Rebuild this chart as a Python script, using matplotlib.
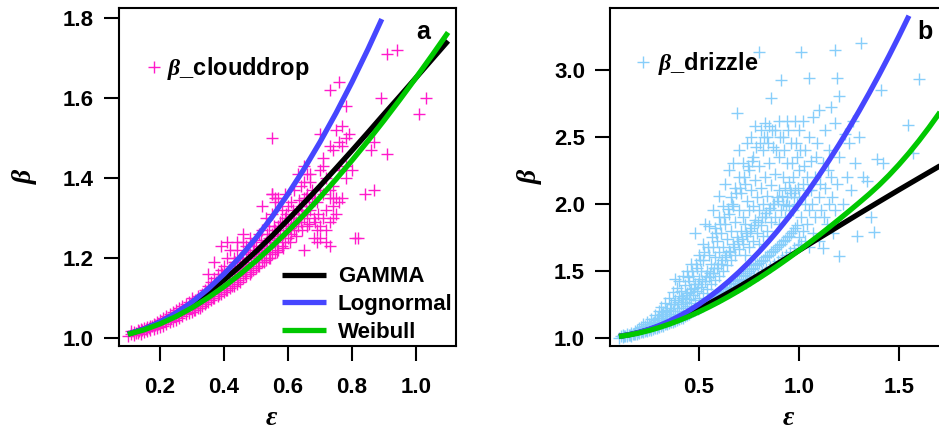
import matplotlib
matplotlib.use("Agg")
import matplotlib.pyplot as plt

plt.rcParams["font.family"] = ["Liberation Sans", "DejaVu Sans"]
plt.rcParams["font.weight"] = "bold"
plt.rcParams["mathtext.fontset"] = "custom"
plt.rcParams["mathtext.it"] = "Liberation Serif:italic:bold"

# theory curves
eps_gamma = [0.10, 0.15, 0.20, 0.25, 0.30, 0.35, 0.40, 0.45, 0.50, 0.55, 0.60, 0.65,
             0.70, 0.75, 0.80, 0.85, 0.90, 0.95, 1.00, 1.05, 1.10, 1.20, 1.30, 1.40,
             1.50, 1.60, 1.70, 1.80]
beta_gamma = [1.0099, 1.0222, 1.0390, 1.0600, 1.0850, 1.1136, 1.1453, 1.1797, 1.2164,
              1.2552, 1.2959, 1.3376, 1.3803, 1.4244, 1.4689, 1.5141, 1.5600, 1.6052,
              1.6510, 1.6969, 1.7428, 1.8341, 1.9249, 2.0147, 2.1036, 2.1910, 2.2779,
              2.3632]
eps_weibull = [0.10, 0.15, 0.20, 0.25, 0.30, 0.35, 0.40, 0.45, 0.50, 0.55, 0.60, 0.65,
               0.70, 0.75, 0.80, 0.85, 0.90, 0.95, 1.00, 1.05, 1.10, 1.15, 1.20, 1.25,
               1.30, 1.35, 1.40, 1.45, 1.50, 1.55, 1.60, 1.65, 1.70, 1.75, 1.80]
beta_weibull = [1.0093, 1.0204, 1.0353, 1.0537, 1.0755, 1.1005, 1.1285, 1.1593, 1.1929,
                1.2290, 1.2676, 1.3085, 1.3516, 1.3969, 1.4441, 1.4932, 1.5441, 1.5967,
                1.6510, 1.7068, 1.7640, 1.8227, 1.8827, 1.9440, 2.0064, 2.0701, 2.138,
                2.212, 2.292, 2.378, 2.470, 2.568, 2.672, 2.782, 2.898]
eps_logn = [0.10, 0.15, 0.20, 0.25, 0.30, 0.35, 0.40, 0.45, 0.50, 0.55, 0.60, 0.65,
            0.70, 0.75, 0.80, 0.85, 0.893, 0.95, 1.00, 1.05, 1.10, 1.15, 1.20, 1.25,
            1.30, 1.35, 1.40, 1.45, 1.50, 1.55]
beta_logn = [1.0100, 1.0225, 1.0400, 1.0625, 1.0900, 1.1225, 1.1600, 1.2025, 1.2500,
             1.3025, 1.3600, 1.4225, 1.4900, 1.5625, 1.6400, 1.7225, 1.7974, 1.9025,
             2.0000, 2.1025, 2.2100, 2.3225, 2.4400, 2.5625, 2.6900, 2.8225, 2.9600,
             3.1025, 3.2500, 3.4025]

cloud = [
    (0.10, 1.005), (0.11, 1.01), (0.11, 1.018), (0.12, 1.008), (0.12, 1.015), (0.13, 1.012),
    (0.13, 1.02), (0.14, 1.01), (0.14, 1.022), (0.15, 1.015), (0.15, 1.025), (0.16, 1.018),
    (0.16, 1.028), (0.17, 1.02), (0.17, 1.03), (0.18, 1.022), (0.18, 1.035), (0.19, 1.025),
    (0.19, 1.04), (0.20, 1.028), (0.20, 1.045), (0.21, 1.03), (0.21, 1.05), (0.22, 1.035),
    (0.22, 1.055), (0.23, 1.04), (0.23, 1.06), (0.24, 1.042), (0.24, 1.065), (0.25, 1.045),
    (0.25, 1.07), (0.26, 1.05), (0.26, 1.075), (0.27, 1.055), (0.27, 1.08), (0.28, 1.06),
    (0.28, 1.085), (0.29, 1.062), (0.29, 1.09), (0.30, 1.065), (0.30, 1.10), (0.24, 1.055),
    (0.27, 1.068), (0.29, 1.075), (0.31, 1.07), (0.31, 1.095), (0.32, 1.075), (0.32, 1.105),
    (0.33, 1.08), (0.33, 1.11), (0.34, 1.085), (0.34, 1.12), (0.35, 1.09), (0.35, 1.13),
    (0.36, 1.095), (0.36, 1.14), (0.37, 1.10), (0.37, 1.15), (0.38, 1.105), (0.38, 1.16),
    (0.39, 1.11), (0.39, 1.17), (0.40, 1.115), (0.40, 1.18), (0.33, 1.095), (0.36, 1.115),
    (0.38, 1.13), (0.35, 1.16), (0.37, 1.19), (0.34, 1.10), (0.39, 1.14), (0.39, 1.23),
    (0.41, 1.24), (0.43, 1.20), (0.41, 1.12), (0.41, 1.16), (0.41, 1.20), (0.42, 1.125),
    (0.42, 1.17), (0.43, 1.13), (0.43, 1.19), (0.43, 1.15), (0.44, 1.135), (0.44, 1.175),
    (0.44, 1.22), (0.45, 1.14), (0.45, 1.18), (0.45, 1.20), (0.46, 1.15), (0.46, 1.19),
    (0.46, 1.24), (0.47, 1.155), (0.47, 1.20), (0.47, 1.17), (0.48, 1.16), (0.48, 1.21),
    (0.48, 1.25), (0.49, 1.17), (0.49, 1.22), (0.50, 1.175), (0.50, 1.20), (0.50, 1.24),
    (0.42, 1.22), (0.44, 1.24), (0.46, 1.26), (0.47, 1.23), (0.51, 1.18), (0.51, 1.22),
    (0.51, 1.26), (0.52, 1.19), (0.52, 1.23), (0.52, 1.27), (0.53, 1.195), (0.53, 1.24),
    (0.53, 1.30), (0.54, 1.20), (0.54, 1.25), (0.54, 1.28), (0.55, 1.21), (0.55, 1.26),
    (0.55, 1.31), (0.56, 1.215), (0.56, 1.27), (0.56, 1.34), (0.57, 1.22), (0.57, 1.28),
    (0.57, 1.25), (0.58, 1.23), (0.58, 1.29), (0.58, 1.32), (0.59, 1.24), (0.59, 1.30),
    (0.60, 1.25), (0.60, 1.28), (0.60, 1.33), (0.55, 1.36), (0.57, 1.35), (0.52, 1.33),
    (0.59, 1.36), (0.61, 1.26), (0.61, 1.30), (0.61, 1.34), (0.62, 1.27), (0.62, 1.31),
    (0.62, 1.37), (0.63, 1.28), (0.63, 1.32), (0.64, 1.29), (0.64, 1.33), (0.64, 1.38),
    (0.65, 1.30), (0.65, 1.35), (0.66, 1.31), (0.66, 1.36), (0.66, 1.28), (0.67, 1.32),
    (0.67, 1.39), (0.68, 1.30), (0.68, 1.35), (0.69, 1.27), (0.69, 1.34), (0.70, 1.28),
    (0.70, 1.37), (0.70, 1.42), (0.68, 1.25), (0.70, 1.25), (0.63, 1.41), (0.65, 1.43),
    (0.67, 1.41), (0.71, 1.30), (0.71, 1.36), (0.72, 1.32), (0.72, 1.40), (0.73, 1.29),
    (0.73, 1.35), (0.74, 1.33), (0.74, 1.38), (0.75, 1.35), (0.75, 1.31), (0.76, 1.34),
    (0.76, 1.42), (0.77, 1.35), (0.78, 1.40), (0.72, 1.27), (0.74, 1.30), (0.73, 1.23),
    (0.71, 1.45), (0.74, 1.47), (0.77, 1.48), (0.78, 1.43),
    (0.91, 1.71), (0.94, 1.72), (0.76, 1.64), (0.73, 1.62), (0.89, 1.60), (1.03, 1.60),
    (1.01, 1.56), (0.78, 1.58), (0.55, 1.50), (0.75, 1.52), (0.77, 1.53), (0.78, 1.50),
    (0.76, 1.49), (0.79, 1.51), (0.73, 1.48), (0.70, 1.51), (0.86, 1.47), (0.91, 1.46),
    (0.87, 1.49), (0.80, 1.42), (0.71, 1.43), (0.87, 1.37), (0.84, 1.36), (0.74, 1.35),
    (0.73, 1.37), (0.81, 1.25), (0.72, 1.24), (0.65, 1.22), (0.69, 1.24), (0.66, 1.41),
    (0.65, 1.39), (0.55, 1.36), (0.56, 1.35), (0.82, 1.25),
]

cloud_core = [
    (0.125, 1.012), (0.135, 1.018), (0.145, 1.02), (0.155, 1.022), (0.165, 1.026),
    (0.175, 1.03), (0.185, 1.032), (0.195, 1.036), (0.205, 1.04), (0.215, 1.043),
    (0.225, 1.048), (0.235, 1.05), (0.245, 1.058), (0.255, 1.06), (0.265, 1.065),
    (0.275, 1.07), (0.285, 1.075), (0.295, 1.082), (0.305, 1.085), (0.315, 1.09),
    (0.325, 1.092), (0.335, 1.10), (0.345, 1.105), (0.355, 1.11), (0.365, 1.12),
    (0.375, 1.125), (0.385, 1.13), (0.395, 1.135), (0.405, 1.14), (0.415, 1.145),
    (0.425, 1.15), (0.435, 1.16), (0.445, 1.165), (0.455, 1.17), (0.465, 1.175),
    (0.475, 1.185), (0.485, 1.19), (0.495, 1.20), (0.505, 1.205), (0.515, 1.21),
    (0.525, 1.215), (0.535, 1.225), (0.545, 1.23), (0.555, 1.24), (0.565, 1.245),
    (0.575, 1.255), (0.585, 1.26), (0.595, 1.27), (0.605, 1.275), (0.615, 1.285),
    (0.625, 1.29), (0.635, 1.30), (0.645, 1.31), (0.655, 1.32), (0.665, 1.33),
    (0.675, 1.34), (0.685, 1.35), (0.695, 1.31),
    (0.305, 1.07), (0.325, 1.075), (0.345, 1.09), (0.365, 1.10), (0.385, 1.11),
    (0.405, 1.12), (0.425, 1.13), (0.445, 1.145), (0.465, 1.16), (0.485, 1.165),
    (0.505, 1.18), (0.525, 1.19), (0.545, 1.20), (0.565, 1.215), (0.585, 1.225),
    (0.605, 1.24), (0.625, 1.255), (0.645, 1.27), (0.665, 1.285), (0.685, 1.29),
    (0.355, 1.125), (0.375, 1.14), (0.395, 1.16), (0.415, 1.17), (0.435, 1.19),
    (0.455, 1.20), (0.475, 1.215), (0.495, 1.23), (0.515, 1.245), (0.535, 1.26),
    (0.555, 1.28), (0.575, 1.29), (0.595, 1.31), (0.615, 1.32), (0.635, 1.345),
    (0.655, 1.35), (0.675, 1.37),
]

drizzle = [
    (0.10, 1.00), (0.11, 1.01), (0.12, 1.005), (0.12, 1.02), (0.13, 1.01), (0.14, 1.015),
    (0.14, 1.03), (0.15, 1.02), (0.16, 1.015), (0.16, 1.035), (0.17, 1.025), (0.18, 1.03),
    (0.18, 1.05), (0.19, 1.03), (0.19, 1.06), (0.20, 1.035), (0.20, 1.07), (0.21, 1.04),
    (0.21, 1.08), (0.22, 1.045), (0.22, 1.06), (0.22, 1.10), (0.23, 1.05), (0.23, 1.09),
    (0.24, 1.05), (0.24, 1.07), (0.24, 1.12), (0.25, 1.055), (0.25, 1.10), (0.26, 1.06),
    (0.26, 1.08), (0.26, 1.14), (0.27, 1.065), (0.27, 1.11), (0.28, 1.07), (0.28, 1.10),
    (0.28, 1.17), (0.29, 1.075), (0.29, 1.13), (0.30, 1.08), (0.30, 1.12), (0.30, 1.20),
    (0.31, 1.085), (0.31, 1.15), (0.31, 1.23), (0.32, 1.09), (0.32, 1.13), (0.32, 1.19),
    (0.33, 1.10), (0.33, 1.16), (0.33, 1.26), (0.34, 1.10), (0.34, 1.14), (0.34, 1.21),
    (0.35, 1.11), (0.35, 1.18), (0.35, 1.30), (0.36, 1.115), (0.36, 1.16), (0.36, 1.25),
    (0.37, 1.12), (0.37, 1.20), (0.37, 1.34), (0.38, 1.125), (0.38, 1.18), (0.38, 1.28),
    (0.38, 1.44), (0.39, 1.13), (0.39, 1.22), (0.39, 1.37), (0.40, 1.14), (0.40, 1.20),
    (0.40, 1.31), (0.40, 1.42), (0.41, 1.15), (0.41, 1.25), (0.41, 1.35), (0.42, 1.15),
    (0.42, 1.22), (0.42, 1.30), (0.42, 1.46), (0.43, 1.16), (0.43, 1.27), (0.43, 1.39),
    (0.44, 1.17), (0.44, 1.24), (0.44, 1.33), (0.44, 1.50), (0.45, 1.18), (0.45, 1.29),
    (0.45, 1.42), (0.46, 1.19), (0.46, 1.26), (0.46, 1.36), (0.46, 1.55), (0.47, 1.20),
    (0.47, 1.32), (0.47, 1.46), (0.48, 1.21), (0.48, 1.28), (0.48, 1.40), (0.48, 1.78),
    (0.49, 1.22), (0.49, 1.35), (0.49, 1.52), (0.50, 1.22), (0.50, 1.30), (0.50, 1.44),
    (0.50, 1.62), (0.51, 1.23), (0.51, 1.38), (0.51, 1.50), (0.52, 1.24), (0.52, 1.33),
    (0.52, 1.58), (0.52, 1.70), (0.53, 1.25), (0.53, 1.42), (0.53, 1.85), (0.54, 1.26),
    (0.54, 1.36), (0.54, 1.50), (0.55, 1.27), (0.55, 1.45), (0.55, 1.62), (0.55, 1.83),
    (0.56, 1.28), (0.56, 1.40), (0.56, 1.55), (0.57, 1.29), (0.57, 1.48), (0.57, 1.68),
    (0.57, 1.95), (0.58, 1.30), (0.58, 1.43), (0.58, 1.60), (0.58, 1.82), (0.59, 1.31),
    (0.59, 1.52), (0.59, 1.72), (0.60, 1.32), (0.60, 1.46), (0.60, 1.64), (0.60, 1.90),
    (0.60, 2.06), (0.61, 1.33), (0.61, 1.55), (0.61, 1.78), (0.62, 1.34), (0.62, 1.50),
    (0.62, 1.68), (0.62, 1.98), (0.63, 1.35), (0.63, 1.60), (0.63, 1.85), (0.63, 2.15),
    (0.64, 1.36), (0.64, 1.54), (0.64, 1.74), (0.65, 1.37), (0.65, 1.65), (0.65, 1.92),
    (0.65, 2.25), (0.66, 1.38), (0.66, 1.58), (0.66, 1.80), (0.66, 2.05), (0.67, 1.40),
    (0.67, 1.70), (0.67, 1.98), (0.67, 2.30), (0.68, 1.41), (0.68, 1.62), (0.68, 1.86),
    (0.68, 2.12), (0.69, 1.42), (0.69, 1.75), (0.69, 2.68), (0.70, 1.43), (0.70, 1.66),
    (0.70, 1.95), (0.70, 2.20), (0.70, 2.40), (0.71, 1.44), (0.71, 1.80), (0.71, 2.08),
    (0.72, 1.46), (0.72, 1.70), (0.72, 1.90), (0.72, 2.30), (0.73, 1.47), (0.73, 1.62),
    (0.73, 1.85), (0.73, 2.15), (0.74, 1.48), (0.74, 1.76), (0.74, 2.02), (0.74, 2.45),
    (0.75, 1.50), (0.75, 1.68), (0.75, 1.95), (0.75, 2.25), (0.76, 1.51), (0.76, 1.82),
    (0.76, 2.10), (0.76, 2.50), (0.77, 1.52), (0.77, 1.72), (0.77, 1.98), (0.77, 2.35),
    (0.78, 1.54), (0.78, 1.88), (0.78, 2.18), (0.78, 2.58), (0.79, 1.55), (0.79, 1.78),
    (0.79, 2.05), (0.80, 1.56), (0.80, 1.70), (0.80, 1.95), (0.80, 2.28), (0.80, 3.13),
    (0.81, 1.57), (0.81, 1.84), (0.81, 2.12), (0.81, 2.55), (0.82, 1.58), (0.82, 1.76),
    (0.82, 2.00), (0.82, 2.40), (0.83, 1.60), (0.83, 1.90), (0.83, 2.20), (0.83, 2.60),
    (0.84, 1.61), (0.84, 1.80), (0.84, 2.06), (0.84, 2.50), (0.85, 1.62), (0.85, 1.95),
    (0.85, 2.30), (0.85, 2.58), (0.86, 1.64), (0.86, 1.86), (0.86, 2.14), (0.86, 2.79),
    (0.87, 1.65), (0.87, 2.00), (0.87, 2.42), (0.88, 1.66), (0.88, 1.90), (0.88, 2.22),
    (0.88, 2.55), (0.89, 1.68), (0.89, 2.05), (0.90, 1.69), (0.90, 1.85), (0.90, 2.10),
    (0.90, 2.35), (0.90, 2.62), (0.91, 1.70), (0.91, 1.95), (0.91, 2.92), (0.92, 1.72),
    (0.92, 2.00), (0.92, 2.20), (0.92, 2.50), (0.93, 1.73), (0.93, 1.90), (0.93, 2.12),
    (0.94, 1.75), (0.94, 2.05), (0.94, 2.30), (0.94, 2.62), (0.95, 1.76), (0.95, 1.98),
    (0.95, 2.16), (0.96, 1.78), (0.96, 2.08), (0.96, 2.45), (0.97, 1.80), (0.97, 1.95),
    (0.97, 2.20), (0.98, 1.82), (0.98, 2.10), (0.98, 2.62), (0.99, 1.84), (0.99, 2.00),
    (0.99, 2.35), (1.00, 1.75), (1.00, 2.05), (1.00, 2.25), (1.00, 2.55), (1.01, 1.70),
    (1.01, 1.90), (1.01, 3.13), (1.02, 1.80), (1.02, 2.15), (1.02, 2.62), (1.03, 1.72),
    (1.03, 2.00), (1.03, 2.40), (1.04, 1.85), (1.04, 2.20), (1.05, 1.68), (1.05, 1.95),
    (1.05, 2.94), (1.05, 2.50), (1.06, 2.10), (1.06, 2.32), (1.07, 1.78), (1.07, 2.65),
    (1.08, 1.90), (1.08, 2.20), (1.09, 2.45), (1.10, 1.72), (1.10, 2.05), (1.10, 2.70),
    (1.11, 1.95), (1.12, 1.67), (1.12, 2.30), (1.13, 2.12), (1.13, 2.55), (1.14, 1.85),
    (1.15, 2.00), (1.15, 2.40), (1.16, 2.20), (1.16, 2.72), (1.17, 1.78), (1.18, 1.95),
    (1.18, 2.60), (1.18, 3.15), (1.19, 2.94), (1.19, 2.15), (1.20, 1.61), (1.20, 2.35),
    (1.20, 2.80), (1.22, 2.00), (1.23, 2.52), (1.24, 2.20), (1.25, 2.45), (1.26, 2.10),
    (1.27, 2.62), (1.28, 2.30), (1.29, 1.76), (1.30, 2.50), (1.31, 3.20), (1.32, 2.20),
    (1.34, 2.17), (1.36, 1.90), (1.375, 1.79), (1.39, 2.33), (1.41, 2.85), (1.42, 2.30),
    (1.545, 2.59), (1.57, 2.38), (1.60, 2.93),
]

drizzle_core = [
    (0.125, 1.01), (0.155, 1.02), (0.175, 1.03), (0.195, 1.04), (0.215, 1.05),
    (0.235, 1.06), (0.255, 1.07), (0.275, 1.08), (0.295, 1.09), (0.315, 1.10),
    (0.335, 1.11), (0.355, 1.125), (0.375, 1.135), (0.395, 1.15), (0.415, 1.16),
    (0.435, 1.175), (0.455, 1.19), (0.475, 1.205), (0.495, 1.215), (0.515, 1.235),
    (0.535, 1.25), (0.555, 1.265), (0.575, 1.28), (0.595, 1.30), (0.615, 1.315),
    (0.635, 1.33), (0.655, 1.345), (0.675, 1.36), (0.695, 1.38), (0.715, 1.395),
    (0.735, 1.41), (0.755, 1.43), (0.775, 1.45), (0.795, 1.47), (0.815, 1.49),
    (0.835, 1.51), (0.855, 1.53), (0.875, 1.55), (0.895, 1.57), (0.915, 1.60),
    (0.935, 1.62), (0.955, 1.64), (0.975, 1.67), (0.995, 1.69),
    (0.255, 1.09), (0.275, 1.12), (0.295, 1.15), (0.315, 1.18), (0.335, 1.20),
    (0.355, 1.22), (0.375, 1.25), (0.395, 1.27), (0.415, 1.30), (0.435, 1.32),
    (0.455, 1.34), (0.475, 1.37), (0.495, 1.40), (0.515, 1.42), (0.535, 1.46),
    (0.555, 1.48), (0.575, 1.52), (0.595, 1.55), (0.615, 1.58), (0.635, 1.62),
    (0.655, 1.64), (0.675, 1.68), (0.695, 1.72), (0.715, 1.74), (0.735, 1.78),
    (0.755, 1.80), (0.775, 1.84), (0.795, 1.86), (0.815, 1.90), (0.835, 1.93),
    (0.855, 1.97), (0.875, 2.00), (0.895, 2.02), (0.915, 2.06), (0.935, 1.99),
    (0.955, 2.10), (0.975, 2.05), (0.995, 2.12),
    (0.445, 1.45), (0.465, 1.50), (0.485, 1.55), (0.505, 1.58), (0.525, 1.64),
    (0.545, 1.68), (0.565, 1.75), (0.585, 1.78), (0.605, 1.85), (0.625, 1.90),
    (0.645, 1.96), (0.665, 2.00), (0.685, 2.08), (0.705, 2.12), (0.725, 2.20),
    (0.745, 2.28), (0.765, 2.32), (0.785, 2.42), (0.805, 2.45), (0.825, 2.50),
    (0.845, 2.45), (0.865, 2.55), (0.885, 2.40), (0.905, 2.50), (0.925, 2.40),
    (0.945, 2.55), (0.965, 2.30), (0.985, 2.45), (1.005, 2.40), (1.025, 2.28),
    (1.045, 2.10), (1.065, 2.00), (1.085, 2.35), (1.105, 2.15), (1.125, 1.90),
    (1.145, 2.25), (1.165, 2.05),
]

pink = "#FF1ACB"
sky = "#87CEFA"
c_gamma, c_logn, c_weib = "black", "#4646FF", "#00C800"
lab_font = dict(family="Liberation Serif", style="italic", weight="bold", size=20)


def upto(xs, ys, end):
    n = sum(1 for x in xs if x <= end + 1e-9)
    return xs[:n], ys[:n]


def panel(ax, pts, color, name, eps_end, logn_end):
    ax.plot([p[0] for p in pts], [p[1] for p in pts], "+", color=color,
            ms=9, mew=1.0, ls="none", label=r"$\beta$_" + name)
    lg, = ax.plot(*upto(eps_gamma, beta_gamma, eps_end), color=c_gamma, lw=3.8,
                  solid_capstyle="butt")
    ll, = ax.plot(*upto(eps_logn, beta_logn, logn_end), color=c_logn, lw=3.8,
                  solid_capstyle="butt")
    lw_, = ax.plot(*upto(eps_weibull, beta_weibull, eps_end), color=c_weib, lw=3.8,
                   solid_capstyle="butt")
    ax.tick_params(direction="out", length=11, width=1.5, labelsize=16)
    ax.tick_params(axis="x", pad=11)
    ax.tick_params(axis="y", pad=7)
    for s in ax.spines.values():
        s.set_linewidth(1.5)
    return lg, ll, lw_


fig = plt.figure(figsize=(9.39, 4.32), dpi=100)
ax1 = fig.add_axes([0.1267, 0.199, 0.359, 0.7824])
ax2 = fig.add_axes([0.6496, 0.199, 0.361, 0.7824])

h = panel(ax1, cloud + cloud_core, pink, "clouddrop", 1.1, 0.893)
panel(ax2, drizzle + drizzle_core, sky, "drizzle", 1.8, 1.55)

ax1.set_xlim(0.072, 1.125)
ax1.set_ylim(0.98, 1.825)
ax1.set_xticks([0.2, 0.4, 0.6, 0.8, 1.0])
ax1.set_xticklabels(["0.2", "0.4", "0.6", "0.8", "1.0"])
ax1.set_yticks([1.0, 1.2, 1.4, 1.6, 1.8])
ax1.set_yticklabels(["1.0", "1.2", "1.4", "1.6", "1.8"])

ax2.set_xlim(0.055, 1.75)
ax2.set_ylim(0.938, 3.46)
ax2.set_xticks([0.5, 1.0, 1.5])
ax2.set_xticklabels(["0.5", "1.0", "1.5"])
ax2.set_yticks([1.0, 1.5, 2.0, 2.5, 3.0])
ax2.set_yticklabels(["1.0", "1.5", "2.0", "2.5", "3.0"])

for ax, xl, yl in [(ax1, 0.451, -0.279), (ax2, 0.525, -0.236)]:
    ax.set_xlabel("ε", fontdict=lab_font)
    ax.xaxis.set_label_coords(xl, -0.235)
    ax.xaxis.label.set_verticalalignment("baseline")
    ax.set_ylabel("β", fontdict=lab_font)
    ax.yaxis.set_label_coords(yl, 0.5)
    ax.yaxis.label.set_verticalalignment("center")

ax1.text(0.902, 0.929, "a", transform=ax1.transAxes, ha="center", va="center",
         fontsize=18, fontweight="bold")
ax2.text(0.929, 0.929, "b", transform=ax2.transAxes, ha="center", va="center",
         fontsize=18, fontweight="bold")

leg1 = ax1.legend(handles=[ax1.lines[0]], loc="upper left", bbox_to_anchor=(0.077, 0.86),
                  frameon=False, fontsize=17, handlelength=0.8, handletextpad=0.15,
                  borderpad=0, borderaxespad=0)
ax1.add_artist(leg1)
ax1.legend(handles=list(h), labels=["GAMMA", "Lognormal", "Weibull"], loc="lower right",
           bbox_to_anchor=(0.99, 0.01), frameon=False, fontsize=16, handlelength=1.95,
           handletextpad=0.55, labelspacing=0.3, borderpad=0, borderaxespad=0)
ax2.legend(handles=[ax2.lines[0]], loc="upper left", bbox_to_anchor=(0.071, 0.875),
           frameon=False, fontsize=17, handlelength=0.8, handletextpad=0.2,
           borderpad=0, borderaxespad=0)

fig.savefig("out.png", dpi=100)
